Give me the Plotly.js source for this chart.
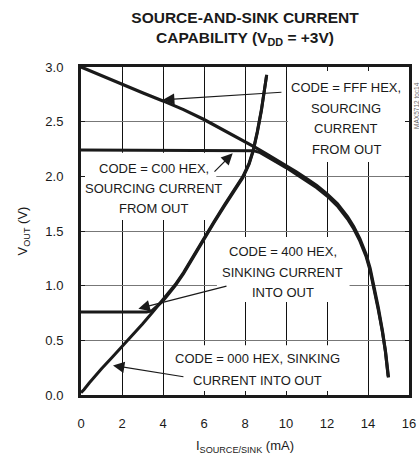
<!DOCTYPE html>
<html>
<head>
<meta charset="utf-8">
<script src="https://cdn.plot.ly/plotly-3.0.1.min.js"></script>
<style>
  html, body { margin: 0; padding: 0; background: #fff; }
  #chart { width: 419px; height: 455px; }
</style>
</head>
<body>
<div id="chart"></div>
<script>
// ---- Data (I in mA, VOUT in V) ----
var fffCurrent = [0, 1, 2, 3, 4, 5, 6, 7, 8, 8.5, 9, 9.5, 10, 10.5, 11, 11.5, 12, 12.5, 13, 13.3, 13.6, 13.9, 14.1, 14.3, 14.5, 14.7, 14.85, 15.0];
var fffVoltage = [3.0, 2.92, 2.84, 2.765, 2.69, 2.61, 2.52, 2.42, 2.32, 2.265, 2.21, 2.155, 2.10, 2.04, 1.98, 1.915, 1.84, 1.75, 1.63, 1.54, 1.43, 1.29, 1.16, 0.99, 0.80, 0.59, 0.40, 0.16];

var c00Current = [0, 8.1, 8.4, 8.7, 9, 9.5, 10, 10.5, 11, 11.5, 12, 12.5, 13, 13.3, 13.6, 13.9, 14.1, 14.3, 14.5, 14.7, 14.85, 14.98];
var c00Voltage = [2.24, 2.24, 2.235, 2.22, 2.19, 2.135, 2.08, 2.02, 1.96, 1.895, 1.82, 1.73, 1.61, 1.52, 1.41, 1.27, 1.14, 0.97, 0.78, 0.58, 0.40, 0.17];

var sinkCurrent = [0, 0.15, 0.4, 0.7, 1, 1.5, 2, 2.5, 3, 3.5, 4, 4.3, 4.6, 5, 5.5, 6, 6.5, 7, 7.5, 7.9, 8.2, 8.4, 8.6, 8.8, 9.06];
var sinkVoltage = [0.02, 0.05, 0.11, 0.18, 0.24, 0.34, 0.44, 0.545, 0.65, 0.76, 0.87, 0.94, 1.01, 1.12, 1.28, 1.44, 1.59, 1.74, 1.88, 2.0, 2.12, 2.24, 2.41, 2.61, 2.93];

var c400Current = [0, 3.2, 3.45, 3.7, 4, 4.3, 4.6, 5, 5.5, 6, 6.5, 7, 7.5, 7.9, 8.2, 8.4, 8.6, 8.8, 9.05];
var c400Voltage = [0.76, 0.76, 0.77, 0.81, 0.86, 0.93, 1.0, 1.11, 1.27, 1.43, 1.58, 1.73, 1.87, 1.99, 2.11, 2.23, 2.40, 2.60, 2.92];

var xTicks = [0, 2, 4, 6, 8, 10, 12, 14, 16];
var yTicks = [0.0, 0.5, 1.0, 1.5, 2.0, 2.5, 3.0];

var labelFFF = ["CODE = FFF HEX,", "SOURCING", "CURRENT", "FROM OUT"];
var labelC00 = ["CODE = C00 HEX,", "SOURCING CURRENT", "FROM OUT"];
var label400 = ["CODE = 400 HEX,", "SINKING CURRENT", "INTO OUT"];
var label000 = ["CODE = 000 HEX, SINKING", "CURRENT INTO OUT"];

// ---- Styling ----
var FONT = "Liberation Sans, Arial, Helvetica, sans-serif";
var INK = "#1a1a1a";

function curve(x, y, name, w) {
  return {
    type: "scatter", mode: "lines", x: x, y: y, name: name,
    line: { color: INK, width: w, shape: "linear" },
    hoverinfo: "skip"
  };
}

var traces = [
  curve(fffCurrent, fffVoltage, "CODE = FFF HEX", 3.2),
  curve(c00Current, c00Voltage, "CODE = C00 HEX", 3),
  curve(sinkCurrent, sinkVoltage, "CODE = 000 HEX", 3),
  curve(c400Current, c400Voltage, "CODE = 400 HEX", 3)
];

function textLines(lines, x, ys) {
  return lines.map(function (t, i) {
    return {
      text: t, x: x, y: ys[i], xref: "x", yref: "y",
      showarrow: false, xanchor: "center", yanchor: "middle",
      font: { family: FONT, size: 13, color: INK }
    };
  });
}

function arrow(tipX, tipY, tailX, tailY) {
  return {
    text: "", x: tipX, y: tipY, ax: tailX, ay: tailY,
    xref: "x", yref: "y", axref: "x", ayref: "y",
    showarrow: true, arrowhead: 2, arrowsize: 1.9, arrowwidth: 1.2,
    arrowcolor: INK, standoff: 0, startstandoff: 0
  };
}

var annotations = []
  .concat(textLines(labelFFF, 12.93, [2.817, 2.625, 2.442, 2.241]))
  .concat(textLines(labelC00, 3.56, [2.076, 1.893, 1.710]))
  .concat(textLines(label400, 9.85, [1.308, 1.125, 0.942]))
  .concat(textLines(label000, 8.59, [0.338, 0.137]))
  .concat([
    arrow(4.0, 2.70, 9.85, 2.77),
    arrow(7.4, 2.21, 6.44, 2.03),
    arrow(2.8, 0.79, 7.17, 1.0),
    arrow(1.56, 0.27, 5.07, 0.165),
    {
      text: "MAX5712 toc14", xref: "paper", yref: "paper", x: 1.021, y: 0.884,
      showarrow: false, textangle: -90, xanchor: "center", yanchor: "middle",
      font: { family: FONT, size: 6.5, color: "#666" }
    }
  ]);

function whiteBox(x0, x1, y0, y1) {
  return {
    type: "rect", xref: "x", yref: "y", x0: x0, x1: x1, y0: y0, y1: y1,
    fillcolor: "#ffffff", line: { width: 0 }, layer: "between"
  };
}

var shapes = [
  whiteBox(10.1, 16, 2.13, 3.0),
  whiteBox(0, 6.6, 1.60, 2.215),
  whiteBox(6.63, 13.1, 0.85, 1.445),
  whiteBox(4.1, 13.9, 0.0, 0.455)
];

var layout = {
  width: 419, height: 455,
  margin: { l: 81, r: 10, t: 67, b: 60, pad: 0 },
  paper_bgcolor: "#ffffff", plot_bgcolor: "#ffffff",
  showlegend: false,
  font: { family: FONT, size: 13, color: INK },
  title: {
    text: "<b>SOURCE-AND-SINK CURRENT<br>CAPABILITY (V<sub>DD</sub> = +3V)</b>",
    font: { family: FONT, size: 15.5, color: INK },
    x: 0.5, xref: "paper", xanchor: "center",
    y: 1, yref: "container", yanchor: "top", pad: { t: 23 }
  },
  xaxis: {
    range: [0, 16], tickvals: xTicks, ticktext: xTicks.map(String),
    showgrid: true, gridcolor: "#111", gridwidth: 1,
    zeroline: false, showline: true, linecolor: INK, linewidth: 3, mirror: "ticks",
    ticks: "inside", ticklen: 4, tickwidth: 1, tickcolor: INK,
    ticklabelstandoff: 14,
    tickfont: { family: FONT, size: 13, color: INK },
    title: { text: "I<sub>SOURCE/SINK</sub> (mA)", font: { family: FONT, size: 13, color: INK }, standoff: 18 },
    fixedrange: true
  },
  yaxis: {
    range: [0, 3.0], tickvals: yTicks, ticktext: yTicks.map(function (v) { return v.toFixed(1); }),
    showgrid: true, gridcolor: "#777", gridwidth: 1,
    zeroline: false, showline: true, linecolor: INK, linewidth: 3, mirror: "ticks",
    ticks: "inside", ticklen: 4, tickwidth: 1, tickcolor: INK,
    ticklabelstandoff: 12,
    tickfont: { family: FONT, size: 13, color: INK },
    title: { text: "V<sub>OUT</sub> (V)", font: { family: FONT, size: 13, color: INK }, standoff: 15 },
    fixedrange: true
  },
  annotations: annotations,
  shapes: shapes
};

Plotly.newPlot("chart", traces, layout, { staticPlot: true, displayModeBar: false });
</script>
</body>
</html>
